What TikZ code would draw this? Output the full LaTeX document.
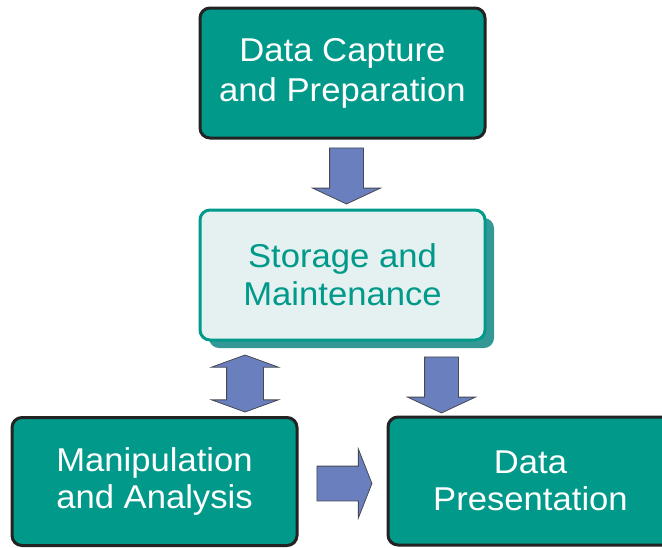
\documentclass[tikz,border=0pt]{standalone}
\usepackage{fontspec}
\setmainfont[FakeStretch=1.05]{Liberation Sans}
\usetikzlibrary{shapes.arrows,shadows}

\definecolor{stageteal}{RGB}{0,153,138}
\definecolor{stageedge}{RGB}{35,35,35}
\definecolor{storefill}{RGB}{229,241,240}
\definecolor{storeshadow}{RGB}{52,153,150}
\definecolor{flowblue}{RGB}{106,128,190}
\definecolor{flowedge}{RGB}{70,72,84}

\begin{document}
\begin{tikzpicture}[
  x=1pt, y=-1pt,
  stage/.style={rectangle, rounded corners=10pt, draw=stageedge, line width=3pt, fill=stageteal,
    minimum width=285pt, minimum height=128pt, align=center, text=white},
  store/.style={rectangle, rounded corners=10pt, draw=stageteal, line width=3pt, fill=storefill,
    minimum width=285pt, minimum height=130pt, align=center, text=stageteal,
    drop shadow={shadow xshift=9pt, shadow yshift=-8pt, fill=storeshadow, opacity=1}},
  flow/.style={single arrow, draw=flowedge, fill=flowblue, line width=0.8pt, inner sep=16.5pt,
    single arrow head extend=17pt, single arrow head indent=0pt, single arrow tip angle=130},
  both/.style={double arrow, draw=flowedge, fill=flowblue, line width=0.8pt, inner sep=18pt,
    double arrow head extend=15pt, double arrow head indent=0pt, double arrow tip angle=140}
]
\useasboundingbox (0,0) rectangle (662,547);

% stages
\node[stage, minimum height=130pt, font=\fontsize{33}{40}\selectfont] (Capture) at (342.5,73) {Data Capture\\and Preparation};
\node[store, font=\fontsize{33}{38}\selectfont] (Storage) at (342.5,275) {Storage and\\Maintenance};
\node[stage, font=\fontsize{33}{37}\selectfont] (Analysis) at (154.5,481.5) {Manipulation\\and Analysis};
\node[stage, font=\fontsize{33}{37}\selectfont] (Present) at (530.5,481) {Data\\Presentation};

% block arrows between the stages
\node[flow, minimum height=56pt, shape border rotate=270] (CapToSto) at (346.5,172) {};
\node[both, minimum height=57pt, shape border rotate=90] (StoAna) at (245,383.5) {};
\node[flow, minimum height=56pt, shape border rotate=270] (StoToPre) at (441.5,381) {};
\node[flow, minimum height=55pt, inner sep=17pt, single arrow tip angle=137] (AnaToPre) at (341,483.5) {};

\end{tikzpicture}
\end{document}
